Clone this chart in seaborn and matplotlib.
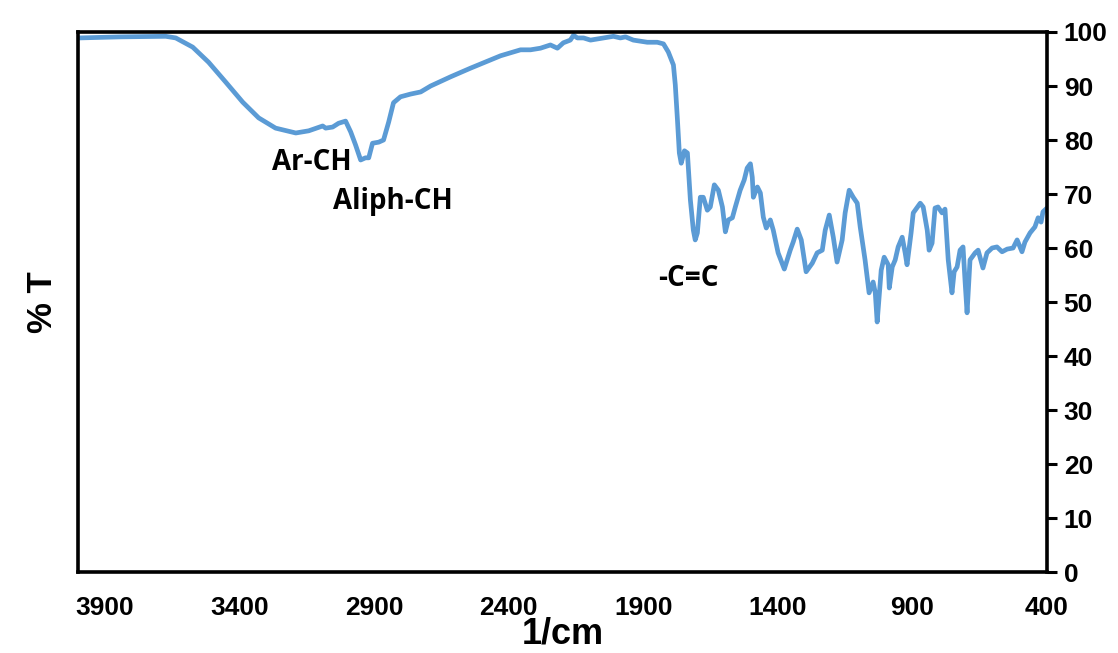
import numpy as np
import pandas as pd
import matplotlib
matplotlib.use("Agg")
import matplotlib.pyplot as plt
import seaborn as sns

# wavenumbers (1/cm) and transmittance (%)
wavenumber = [
    3997, 3841, 3674, 3637, 3574, 3515, 3451, 3388, 3329, 3266, 3191, 3143,
    3091, 3080, 3054, 3032, 3006, 2987, 2969, 2950, 2932, 2920, 2906, 2883,
    2865, 2846, 2828, 2802, 2765, 2727, 2690, 2616, 2542, 2430, 2356, 2319,
    2282, 2245, 2219, 2197, 2171, 2159, 2145, 2122, 2096, 2048, 2011, 1985,
    1966, 1937, 1885, 1848, 1825, 1807, 1788, 1781, 1773, 1766, 1759, 1747,
    1736, 1725, 1714, 1707, 1699, 1688, 1677, 1662, 1651, 1636, 1621, 1606,
    1595, 1584, 1569, 1558, 1540, 1525, 1514, 1502, 1495, 1491, 1476, 1465,
    1454, 1443, 1428, 1417, 1399, 1376, 1354, 1343, 1328, 1313, 1295, 1272,
    1254, 1235, 1224, 1209, 1194, 1180, 1161, 1150, 1135, 1120, 1105, 1094,
    1076, 1061, 1046, 1038, 1031, 1016, 1005, 990, 986, 975, 964, 953,
    938, 927, 920, 905, 897, 871, 860, 845, 838, 827, 816, 805,
    790, 779, 767, 753, 745, 734, 723, 712, 704, 697, 686, 667,
    656, 638, 623, 604, 586, 567, 548, 526, 511, 493, 482, 463,
    445, 433, 422, 415, 400,
]
transmittance = [
    98.9, 99.1, 99.2, 98.9, 97.2, 94.4, 90.7, 87.0, 84.1, 82.2, 81.3, 81.7,
    82.6, 82.2, 82.4, 83.1, 83.5, 81.5, 79.1, 76.3, 76.7, 76.7, 79.4, 79.6,
    80.0, 83.3, 86.9, 88.0, 88.5, 88.9, 90.0, 91.7, 93.3, 95.6, 96.7, 96.7,
    97.0, 97.6, 97.0, 98.0, 98.5, 99.4, 98.9, 98.9, 98.5, 98.9, 99.2, 98.9,
    99.1, 98.5, 98.1, 98.1, 97.8, 96.3, 93.9, 90.2, 83.7, 77.6, 75.7, 78.0,
    77.6, 68.9, 63.3, 61.5, 62.8, 69.4, 69.4, 67.0, 67.6, 71.7, 70.7, 67.6,
    63.0, 65.2, 65.6, 67.6, 70.7, 72.6, 74.8, 75.6, 73.1, 69.4, 71.3, 70.2,
    65.7, 63.7, 65.2, 63.3, 59.1, 56.1, 59.6, 61.1, 63.5, 61.5, 55.6, 57.2,
    59.1, 59.6, 63.3, 66.1, 62.0, 57.4, 61.5, 66.5, 70.7, 69.4, 68.3, 63.9,
    57.8, 51.7, 53.7, 51.7, 46.3, 55.9, 58.3, 56.9, 52.6, 56.5, 57.8, 60.2,
    62.0, 59.1, 56.9, 62.8, 66.5, 68.3, 67.6, 63.3, 59.6, 60.9, 67.4, 67.6,
    66.5, 67.2, 57.8, 51.7, 55.6, 56.5, 59.6, 60.2, 53.5, 48.0, 57.8, 59.1,
    59.6, 56.3, 59.1, 60.0, 60.2, 59.3, 59.8, 60.0, 61.5, 59.3, 61.1, 62.8,
    63.9, 65.6, 64.8, 66.7, 67.4,
]

# peak labels
labels = ["Ar-CH", "Aliph-CH", "-C=C"]
label_x = [3132, 2831, 1733]
label_y = [75.9, 68.7, 54.3]

x_ticks = [3900, 3400, 2900, 2400, 1900, 1400, 900, 400]
y_ticks = list(range(0, 101, 10))

sns.set_style("white")
plt.rcParams['font.family'] = ['Liberation Sans Narrow', 'Liberation Sans', 'DejaVu Sans']
plt.rcParams['text.color'] = 'black'
plt.rcParams['axes.labelcolor'] = 'black'

df = pd.DataFrame({"wn": wavenumber, "T": transmittance})

fig = plt.figure(figsize=(11.18, 6.53), dpi=100)
ax = fig.add_axes([0.0698, 0.124, 0.8667, 0.827])

sns.lineplot(data=df, x="wn", y="T", sort=False, color="#5B9BD5",
             linewidth=3.4, ax=ax)
ax.lines[0].set_solid_joinstyle("round")

ax.set_xlim(4000, 400)
ax.set_ylim(0, 100)
ax.set_xticks(x_ticks)
ax.set_yticks(y_ticks)
ax.yaxis.tick_right()
ax.tick_params(axis="both", direction="out", length=7, width=2.2,
               labelsize=19, colors="black")
ax.tick_params(axis="x", pad=10)
ax.tick_params(axis="y", pad=5)
for lbl in ax.get_xticklabels() + ax.get_yticklabels():
    lbl.set_fontweight("bold")

for side in ["left", "right", "top", "bottom"]:
    ax.spines[side].set_visible(True)
    ax.spines[side].set_color("black")
    ax.spines[side].set_linewidth(2.6)

ax.set_xlabel("1/cm", fontsize=26, fontweight="bold", labelpad=-2,
              family=["Liberation Sans", "DejaVu Sans"])
ax.set_ylabel("% T", fontsize=25, fontweight="bold", labelpad=14,
              family=["Liberation Sans", "DejaVu Sans"])
ax.yaxis.set_label_position("left")

for txt, lx, ly in zip(labels, label_x, label_y):
    ax.text(lx, ly, txt, fontsize=20, fontweight="bold", ha="center",
            va="center", family=["Open Sans", "DejaVu Sans"])

fig.savefig("out.png", dpi=100)
